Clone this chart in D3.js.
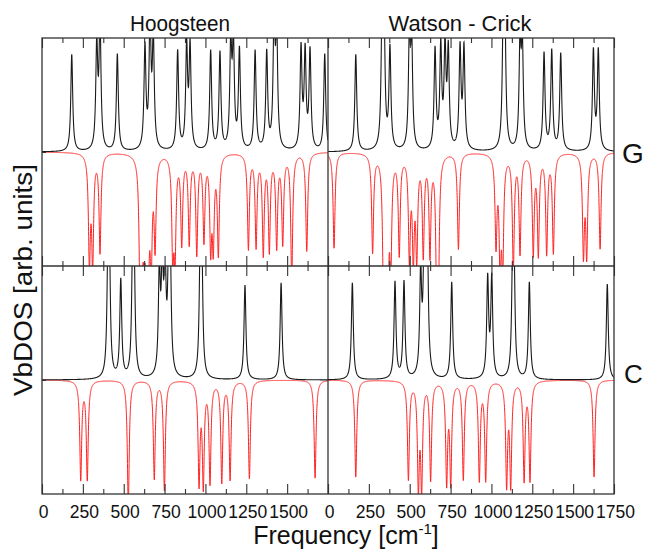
<!DOCTYPE html>
<html><head><meta charset="utf-8">
<script src="https://cdn.jsdelivr.net/npm/d3@7"></script>
<style>
body{margin:0;background:#fff}
svg{display:block}
svg text{font-family:'Liberation Sans',Arial,sans-serif;fill:#111}
</style>
</head><body>
<svg id="c" width="646" height="551"></svg>
<script>
// ---------------- data ----------------
const columns = ["Hoogsteen", "Watson - Crick"];
const rows = ["G", "C"];
const tickLabelsLeft = [0, 250, 500, 750, 1000, 1250, 1500];
const tickLabelsRight = [0, 250, 500, 750, 1000, 1250, 1500, 1750];
const majorTicks = [0, 250, 500, 750, 1000, 1250, 1500, 1750];
const minorTicks = [125, 375, 625, 875, 1125, 1375, 1625];

// Hoogsteen G (black, up / red, down)
const hgUpFreq = [182, 335, 355, 461, 630, 661, 681, 830, 885, 906, 1032, 1089, 1155, 1171, 1208, 1304, 1375, 1420, 1436, 1585, 1610, 1640, 1730];
const hgUpInt  = [0.85, 0.91, 1.1, 0.85, 0.89, 1.1, 0.95, 0.87, 0.89, 0.89, 0.87, 0.85, 0.9, 0.9, 0.87, 0.87, 0.85, 1.1, 1.0, 0.88, 0.84, 0.86, 0.85];
const hgDnFreq = [290, 310, 355, 600, 612, 625, 640, 652, 668, 692, 800, 814, 855, 901, 947, 991, 1032, 1048, 1079, 1263, 1310, 1354, 1391, 1436, 1473, 1528, 1620];
const hgDnInt  = [0.93, 0.93, 0.86, 1.1, 0.7, 0.55, 1.1, 0.6, 0.9, 0.77, 0.86, 0.83, 0.77, 0.77, 0.86, 0.74, 0.77, 0.75, 0.86, 0.83, 0.8, 0.86, 0.83, 0.8, 0.77, 1.1, 0.86];

// Watson - Crick G
const wgUpFreq = [170, 331, 343, 379, 498, 512, 655, 690, 716, 736, 808, 832, 1073, 1082, 1175, 1189, 1322, 1369, 1424, 1624, 1654];
const wgUpInt  = [0.85, 1.1, 1.0, 0.88, 0.95, 0.89, 0.87, 0.88, 0.87, 0.84, 0.88, 0.88, 1.1, 1.0, 0.9, 0.89, 0.85, 0.87, 0.85, 0.87, 0.87];
const wgDnFreq = [37, 273, 339, 353, 367, 384, 436, 498, 522, 543, 583, 624, 665, 675, 798, 1028, 1053, 1069, 1134, 1175, 1256, 1287, 1338, 1379, 1563, 1583, 1665];
const wgDnInt  = [0.84, 0.86, 0.95, 0.97, 0.9, 0.92, 0.86, 0.89, 0.86, 0.86, 0.86, 0.86, 0.97, 1.05, 0.84, 0.77, 0.93, 0.93, 1.0, 0.86, 0.86, 0.86, 0.86, 0.86, 0.86, 0.86, 0.84];

// Hoogsteen C
const hcUpFreq = [404, 412, 482, 555, 563, 718, 736, 753, 776, 784, 968, 978, 1242, 1463];
const hcUpInt  = [1.0, 0.95, 0.86, 1.0, 0.95, 0.9, 0.91, 0.92, 1.0, 0.95, 1.0, 0.95, 0.83, 0.85];
const hcDnFreq = [237, 277, 528, 687, 749, 961, 987, 1028, 1100, 1151, 1269, 1671];
const hcDnInt  = [0.86, 0.86, 1.1, 0.86, 0.96, 0.88, 0.89, 0.88, 0.88, 0.86, 0.86, 0.86];

// Watson - Crick C
const wcUpFreq = [149, 410, 465, 567, 588, 600, 608, 757, 977, 1002, 1130, 1138, 1232, 1709];
const wcUpInt  = [0.85, 0.85, 0.85, 0.88, 0.92, 0.93, 0.91, 0.85, 0.87, 0.87, 0.92, 0.9, 0.85, 0.84];
const wcDnFreq = [170, 492, 553, 573, 628, 726, 751, 828, 926, 965, 1093, 1118, 1200, 1236, 1628];
const wcDnInt  = [0.85, 0.86, 0.9, 0.9, 0.86, 0.87, 0.87, 0.86, 0.86, 0.86, 0.89, 0.89, 0.86, 0.86, 0.85];

// ---------------- layout ----------------
const FONT = "'Liberation Sans',Arial,sans-serif";
const L = 42, M = 328, R = 614, T = 38, MID = 266, B = 494;
const colX = [[L, M], [M, R]];
const rowY = [[T, MID], [MID, B]];
const gamma = 7;
const svg = d3.select("#c");

const panels = [
  {col: 0, row: 0, up: [hgUpFreq, hgUpInt], dn: [hgDnFreq, hgDnInt]},
  {col: 1, row: 0, up: [wgUpFreq, wgUpInt], dn: [wgDnFreq, wgDnInt]},
  {col: 0, row: 1, up: [hcUpFreq, hcUpInt], dn: [hcDnFreq, hcDnInt]},
  {col: 1, row: 1, up: [wcUpFreq, wcUpInt], dn: [wcDnFreq, wcDnInt]}
];

const grid = d3.range(0, 1750.001, 0.5);
function spectrum(fr, it) {
  return grid.map(f => [f, d3.sum(fr, (c, i) => it[i] * gamma * gamma / ((f - c) * (f - c) + gamma * gamma))]);
}

const defs = svg.append("defs");
panels.forEach((p, k) => {
  const x = d3.scaleLinear().domain([0, 1750]).range(colX[p.col]);
  const y = d3.scaleLinear().domain([-1, 1]).range([rowY[p.row][1], rowY[p.row][0]]);
  defs.append("clipPath").attr("id", "cp" + k).append("rect")
    .attr("x", colX[p.col][0]).attr("y", rowY[p.row][0])
    .attr("width", colX[p.col][1] - colX[p.col][0]).attr("height", rowY[p.row][1] - rowY[p.row][0]);
  const g = svg.append("g").attr("clip-path", `url(#cp${k})`);
  const upData = spectrum(p.up[0], p.up[1]);
  const dnData = spectrum(p.dn[0], p.dn[1]);
  g.append("path").datum(dnData)
    .attr("d", d3.line().x(d => x(d[0])).y(d => y(-d[1])))
    .attr("fill", "none").attr("stroke", "#ff2020").attr("stroke-width", 1);
  g.append("path").datum(upData)
    .attr("d", d3.line().x(d => x(d[0])).y(d => y(d[1])))
    .attr("fill", "none").attr("stroke", "#1a1a1a").attr("stroke-width", 1.1);

  const top = rowY[p.row][0], bot = rowY[p.row][1];
  const addAx = (axis, ty) => {
    const a = svg.append("g").attr("transform", `translate(0,${ty})`).call(axis);
    a.select(".domain").remove();
    a.selectAll("line").attr("stroke", "#333").attr("stroke-width", 1.1);
    a.selectAll("text").remove();
  };
  addAx(d3.axisBottom(x).tickValues(majorTicks).tickSize(10), top);
  addAx(d3.axisBottom(x).tickValues(minorTicks).tickSize(5), top);
  addAx(d3.axisTop(x).tickValues(majorTicks).tickSize(10), bot);
  addAx(d3.axisTop(x).tickValues(minorTicks).tickSize(5), bot);

  if (p.col === 0) {
    const ya = svg.append("g").attr("transform", `translate(${L},0)`)
      .call(d3.axisRight(y).tickValues([0]).tickSize(4));
    ya.select(".domain").remove();
    ya.selectAll("text").remove();
    ya.selectAll("line").attr("stroke", "#333");
  }

  if (p.row === 1) {
    const lab = svg.append("g").attr("transform", `translate(1,${B})`)
      .call(d3.axisBottom(x).tickValues(p.col === 0 ? tickLabelsLeft : tickLabelsRight)
        .tickSize(0).tickPadding(12).tickFormat(d3.format("d")));
    lab.attr("font-family", FONT).attr("font-size", 17.5);
    lab.select(".domain").remove();
    lab.selectAll("text").attr("fill", "#111");
  }
});

// frame
svg.append("rect").attr("x", L).attr("y", T).attr("width", R - L).attr("height", B - T)
  .attr("fill", "none").attr("stroke", "#333").attr("stroke-width", 1.3);
svg.append("line").attr("x1", M).attr("x2", M).attr("y1", T).attr("y2", B).attr("stroke", "#333").attr("stroke-width", 1.3);
svg.append("line").attr("x1", L).attr("x2", R).attr("y1", MID).attr("y2", MID).attr("stroke", "#333").attr("stroke-width", 1.3);

const txt = () => svg.append("text").attr("font-family", FONT);
// titles
txt().attr("x", 180).attr("y", 31).attr("text-anchor", "middle").attr("font-size", 22)
  .attr("textLength", 100).attr("lengthAdjust", "spacingAndGlyphs").text(columns[0]);
txt().attr("x", 460).attr("y", 31).attr("text-anchor", "middle").attr("font-size", 22)
  .attr("textLength", 143).attr("lengthAdjust", "spacingAndGlyphs").text(columns[1]);
// row labels
txt().attr("x", 622).attr("y", 163).attr("font-size", 28).text(rows[0]);
txt().attr("x", 624).attr("y", 383).attr("font-size", 26).text(rows[1]);
// y label
txt().attr("transform", "translate(32,280) rotate(-90)").attr("text-anchor", "middle")
  .attr("font-size", 26).attr("textLength", 232).attr("lengthAdjust", "spacingAndGlyphs")
  .text("VbDOS [arb. units]");
// x label
const xl = txt().attr("x", 346).attr("y", 544).attr("text-anchor", "middle").attr("font-size", 25);
xl.append("tspan").text("Frequency [cm");
xl.append("tspan").attr("dy", -10).attr("font-size", 15).text("-1");
xl.append("tspan").attr("dy", 10).text("]");
</script>
</body></html>
